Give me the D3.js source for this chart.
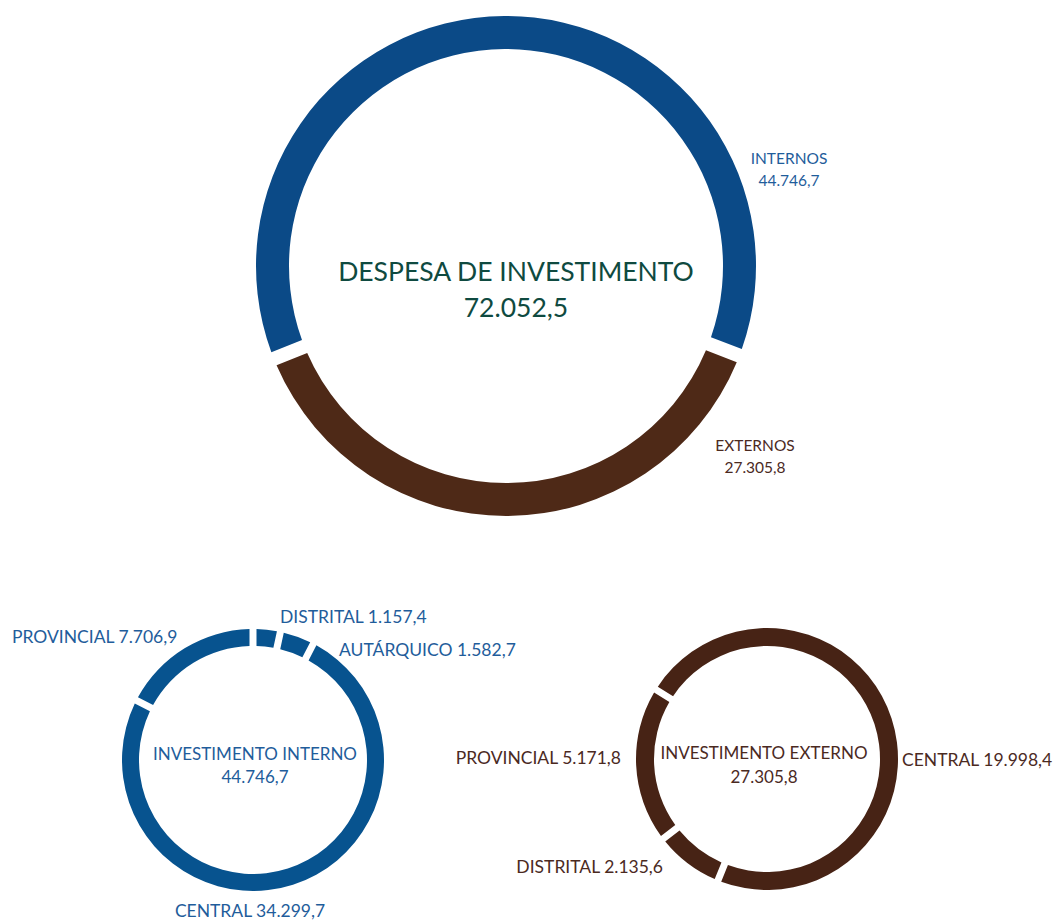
<!DOCTYPE html>
<html>
<head>
<meta charset="utf-8">
<script src="https://cdn.jsdelivr.net/npm/d3@7"></script>
<style>
  body { margin: 0; background: #fff; }
  text { font-family: Lato, "Open Sans", sans-serif; }
</style>
</head>
<body>
<div id="chart"></div>
<script>
// despesa total
var totalLabel = "DESPESA DE INVESTIMENTO";
var totalCats = ["INTERNOS", "EXTERNOS"];
var totalVals = [44746.7, 27305.8];

// investimento interno (clockwise from top)
var internoLabel = "INVESTIMENTO INTERNO";
var internoCats = ["DISTRITAL", "AUTÁRQUICO", "CENTRAL", "PROVINCIAL"];
var internoVals = [1157.4, 1582.7, 34299.7, 7706.9];

// investimento externo
var externoLabel = "INVESTIMENTO EXTERNO";
var externoCats = ["CENTRAL", "DISTRITAL", "PROVINCIAL"];
var externoVals = [19998.4, 2135.6, 5171.8];

var pt = d3.formatLocale({decimal: ",", thousands: ".", grouping: [3], currency: ["", ""]});
var fmt = pt.format(",.1f");

var W = 1056, H = 920;
var blue = "#0b4a87", brown = "#4e2917";
var blueSmall = "#07538f", brownSmall = "#472315";
var blueText = "#1f5d9b", brownText = "#4b2a1f", titleText = "#0f4a40";

var svg = d3.select("#chart").append("svg")
    .attr("width", W).attr("height", H);

function donut(opts) {
    var pie = d3.pie().sort(null)
        .startAngle(opts.start)
        .endAngle(opts.start + 2 * Math.PI)
        .padAngle(opts.gap / opts.outer);
    var arc = d3.arc()
        .innerRadius(opts.inner)
        .outerRadius(opts.outer)
        .padRadius(opts.outer);

    var g = svg.append("g")
        .attr("transform", "translate(" + opts.cx + "," + opts.cy + ")");
    g.selectAll("path").data(pie(opts.values)).enter().append("path")
        .attr("d", arc)
        .attr("fill", function(d, i) { return opts.colors[i]; });

    // label in the middle
    var c = svg.append("text")
        .attr("x", opts.textX).attr("y", opts.textY)
        .attr("text-anchor", "middle")
        .attr("fill", opts.textColor)
        .style("font-size", opts.textSize + "px");
    c.append("tspan").attr("x", opts.textX).text(opts.title);
    c.append("tspan").attr("x", opts.textX).attr("dy", opts.lineH).text(fmt(d3.sum(opts.values)));
    return g;
}

// big one: externos centred at the bottom
var extAngle = 2 * Math.PI * totalVals[1] / d3.sum(totalVals);
donut({
    values: totalVals, colors: [blue, brown],
    cx: 506, cy: 266, outer: 250, inner: 217, gap: 14,
    start: -Math.PI + extAngle / 2,
    title: totalLabel, textX: 516, textY: 281, lineH: 36,
    textSize: 26.5, textColor: titleText
});

donut({
    values: internoVals, colors: internoCats.map(function() { return blueSmall; }),
    cx: 253, cy: 760, outer: 131, inner: 114, gap: 7,
    start: 0,
    title: internoLabel, textX: 255, textY: 760, lineH: 23,
    textSize: 17, textColor: blueText
});

donut({
    values: externoVals, colors: externoCats.map(function() { return brownSmall; }),
    cx: 767, cy: 759, outer: 131, inner: 113, gap: 7,
    start: -58 * Math.PI / 180,
    title: externoLabel, textX: 764, textY: 759, lineH: 24,
    textSize: 17, textColor: brownText
});

// outside labels
var mainLabels = [
    {i: 0, x: 789, y: 164, color: blueText},
    {i: 1, x: 755, y: 451, color: brownText}
];
mainLabels.forEach(function(l) {
    var t = svg.append("text")
        .attr("x", l.x).attr("y", l.y)
        .attr("text-anchor", "middle")
        .attr("fill", l.color)
        .style("font-size", "15.5px");
    t.append("tspan").attr("x", l.x).text(totalCats[l.i]);
    t.append("tspan").attr("x", l.x).attr("dy", 22).text(fmt(totalVals[l.i]));
});

var internoPos = [
    {x: 280, y: 623, anchor: "start"},   // distrital
    {x: 339, y: 656, anchor: "start"},   // autarquico
    {x: 250, y: 917, anchor: "middle"},  // central
    {x: 12, y: 643, anchor: "start"}     // provincial
];
svg.append("g").selectAll("text").data(internoCats).enter().append("text")
    .attr("x", function(d, i) { return internoPos[i].x; })
    .attr("y", function(d, i) { return internoPos[i].y; })
    .attr("text-anchor", function(d, i) { return internoPos[i].anchor; })
    .attr("fill", blueText)
    .style("font-size", "17.5px")
    .text(function(d, i) { return d + " " + fmt(internoVals[i]); });

var externoPos = [
    {x: 902, y: 766, anchor: "start"},  // central
    {x: 663, y: 873, anchor: "end"},    // distrital
    {x: 621, y: 764, anchor: "end"}     // provincial
];
svg.append("g").selectAll("text").data(externoCats).enter().append("text")
    .attr("x", function(d, i) { return externoPos[i].x; })
    .attr("y", function(d, i) { return externoPos[i].y; })
    .attr("text-anchor", function(d, i) { return externoPos[i].anchor; })
    .attr("fill", brownText)
    .style("font-size", "17.5px")
    .text(function(d, i) { return d + " " + fmt(externoVals[i]); });
</script>
</body>
</html>
